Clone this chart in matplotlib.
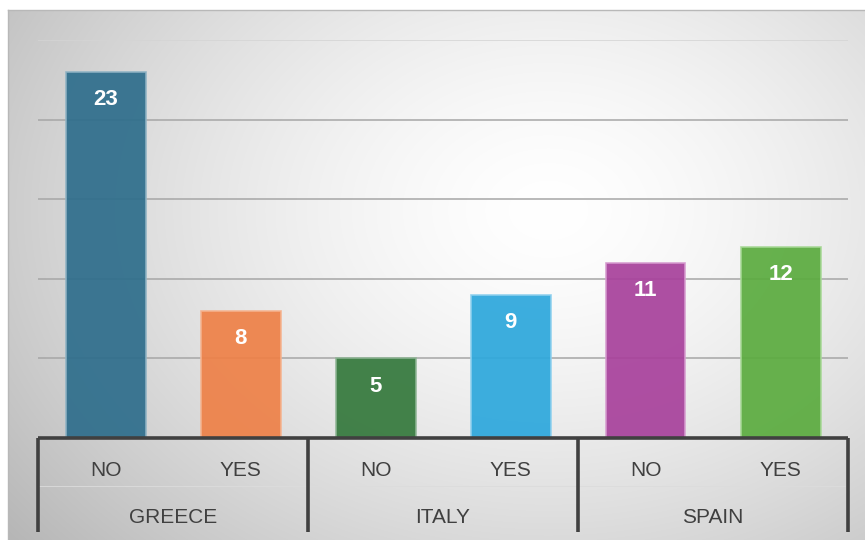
import matplotlib.pyplot as plt
import matplotlib.transforms as mtransforms
import numpy as np

plt.rcParams['font.family'] = ['Liberation Sans', 'DejaVu Sans']

groups = ["GREECE", "ITALY", "SPAIN"]
answers = ["NO", "YES", "NO", "YES", "NO", "YES"]
values = [23, 8, 5, 9, 11, 12]
colors = ["#2f6e8c", "#ee8148", "#35793d", "#2ea8dc", "#a8429c", "#5cac40"]
edges = ["#8fb3c4", "#f5b38f", "#8fb595", "#8fd0ee", "#d69bcf", "#a7d896"]
grid_vals = [5, 10, 15, 20]

W, H = 865, 540
fig = plt.figure(figsize=(W / 100, H / 100), dpi=100)
fig.patch.set_facecolor("white")

# radial gradient background of the chart area
bg = fig.add_axes([8 / W, 0, 1 - 8 / W, 1 - 10 / H])
yy, xx = np.mgrid[0:530, 0:857]
r = np.sqrt(((xx - 540) / 600.0) ** 2 + ((yy - 200) / 450.0) ** 2)
shade = 1.0 - 0.23 * np.clip(r, 0, 1.2) ** 1.5
bg.imshow(np.dstack([shade] * 3), aspect="auto", extent=[0, 1, 0, 1], origin="upper")
bg.set_axis_off()
fig.add_artist(plt.Line2D([8 / W, 8 / W], [0, 1 - 10 / H], color="#b8b8b8", lw=1))
fig.add_artist(plt.Line2D([8 / W, 1], [1 - 10 / H, 1 - 10 / H], color="#b8b8b8", lw=1))

ax = fig.add_axes([38 / W, (H - 438) / H, 810 / W, 398 / H])
ax.set_facecolor("none")
ax.set_xlim(-0.5, 5.5)
ax.set_ylim(0, 25)
for s in ax.spines.values():
    s.set_visible(False)
ax.set_xticks([])
ax.set_yticks([])

for g in grid_vals:
    ax.axhline(g, color="#a6a6a6", lw=1.1, zorder=1)
ax.axhline(25, color="#d4d4d4", lw=1.1, zorder=1)

x = np.arange(len(values))
bars = ax.bar(x, values, width=80 / 135, color=colors, edgecolor=edges,
              linewidth=1.2, alpha=0.93, zorder=2)
for xi, v in zip(x, values):
    ax.annotate(str(v), (xi, v), xytext=(0, -20), textcoords="offset points",
                ha="center", va="center", color="white", fontsize=16,
                fontweight="bold", zorder=3)

# category axis with group brackets
trans = mtransforms.blended_transform_factory(ax.transData, ax.transAxes)
ax.plot([-0.5, 5.5], [0, 0], transform=trans, color="#404040", lw=2.6,
        clip_on=False, zorder=4, solid_capstyle="butt")
for sep in [-0.5, 1.5, 3.5, 5.5]:
    ax.plot([sep, sep], [0, -0.237], transform=trans, color="#404040", lw=2.6,
            clip_on=False, zorder=4, solid_capstyle="butt")
ax.plot([-0.5, 5.5], [-0.121, -0.121], transform=trans, color="#dcdcdc", lw=0.6,
        clip_on=False, zorder=1)
for xi, a in zip(x, answers):
    ax.text(xi, -0.081, a, transform=trans, ha="center", va="center",
            fontsize=15, color="#404040")
for gi, g in enumerate(groups):
    ax.text(2 * gi + 0.5, -0.199, g, transform=trans, ha="center", va="center",
            fontsize=15, color="#404040")

fig.savefig("out.png", dpi=100)
